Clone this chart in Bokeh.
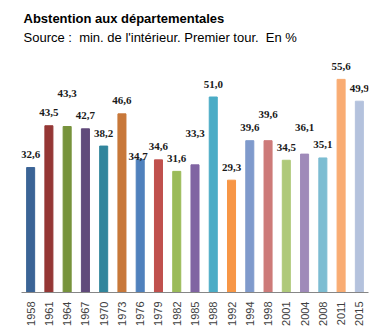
import math
from bokeh.plotting import figure
from bokeh.models import ColumnDataSource, LabelSet, Title, Range1d, FactorRange
from bokeh.embed import file_html
from bokeh.resources import INLINE

years = ["1958", "1961", "1964", "1967", "1970", "1973", "1976", "1979", "1982", "1985",
         "1988", "1992", "1994", "1998", "2001", "2004", "2008", "2011", "2015"]
values = [32.6, 43.5, 43.3, 42.7, 38.2, 46.6, 34.7, 34.6, 31.6, 33.3,
          51.0, 29.3, 39.6, 39.6, 34.5, 36.1, 35.1, 55.6, 49.9]
labels = ["32,6", "43,5", "43,3", "42,7", "38,2", "46,6", "34,7", "34,6", "31,6", "33,3",
          "51,0", "29,3", "39,6", "39,6", "34,5", "36,1", "35,1", "55,6", "49,9"]
colors = ["#3B6496", "#953735", "#77933C", "#604A7B", "#31859C", "#C8783A", "#4F81BD",
          "#C0504D", "#9BBB59", "#8064A2", "#4BACC6", "#F79646", "#7F9ACC", "#CD7A79",
          "#AFC97A", "#9F8AB9", "#7CBDD2", "#F9AC73", "#B4C2DD"]

# manual label nudges (pixels), as placed in the original chart
label_nudge = {"1964": 20, "1976": -10, "1985": 18, "1998": 13, "2004": 14}
dy = [13 + label_nudge.get(yr, 0) for yr in years]
dx = [-2 if yr == "1976" else 0 for yr in years]

src = ColumnDataSource(dict(x=years, top=values, label=labels, color=colors, dy=dy, dx=dx))

p = figure(width=381, height=333, x_range=FactorRange(*years), y_range=Range1d(0, 60),
           output_backend="svg", toolbar_location=None,
           min_border_left=21, min_border_right=13, min_border_top=62, min_border_bottom=41)
p.title = None
p.outline_line_color = None
p.grid.visible = False
p.yaxis.visible = False
p.background_fill_color = "white"
p.border_fill_color = "white"

p.vbar(x="x", top="top", width=0.44, color="color", source=src)

ax = p.xaxis[0]
ax.axis_line_color = "#868686"
ax.major_tick_line_color = None
ax.minor_tick_line_color = None
ax.major_label_orientation = math.pi / 2
ax.major_label_text_font = "Liberation Sans"
ax.major_label_text_font_size = "11px"
ax.major_label_text_color = "#404040"
ax.major_label_standoff = 3

ls = LabelSet(x="x", y="top", text="label", source=src, y_offset="dy", x_offset="dx",
              text_align="center", text_baseline="middle",
              text_font="Liberation Sans", text_font_style="bold",
              text_font_size="11px", text_color="#1a1a1a")
p.add_layout(ls)

# spacer (closest to frame), then subtitle, then title on top
p.add_layout(Title(text=" ", text_font_size="8px", standoff=6), "above")
p.add_layout(Title(text="Source :\u00a0 min. de l'intérieur. Premier tour.\u00a0 En %",
                   text_font="Liberation Sans", text_font_size="13px",
                   text_font_style="normal", text_color="#000000",
                   align="left", offset=2, standoff=2), "above")
p.add_layout(Title(text="Abstention aux départementales",
                   text_font="Liberation Sans", text_font_size="13px",
                   text_font_style="bold", text_color="#000000",
                   align="left", offset=2, standoff=2), "above")

open("out.html", "w").write(file_html(p, INLINE))
